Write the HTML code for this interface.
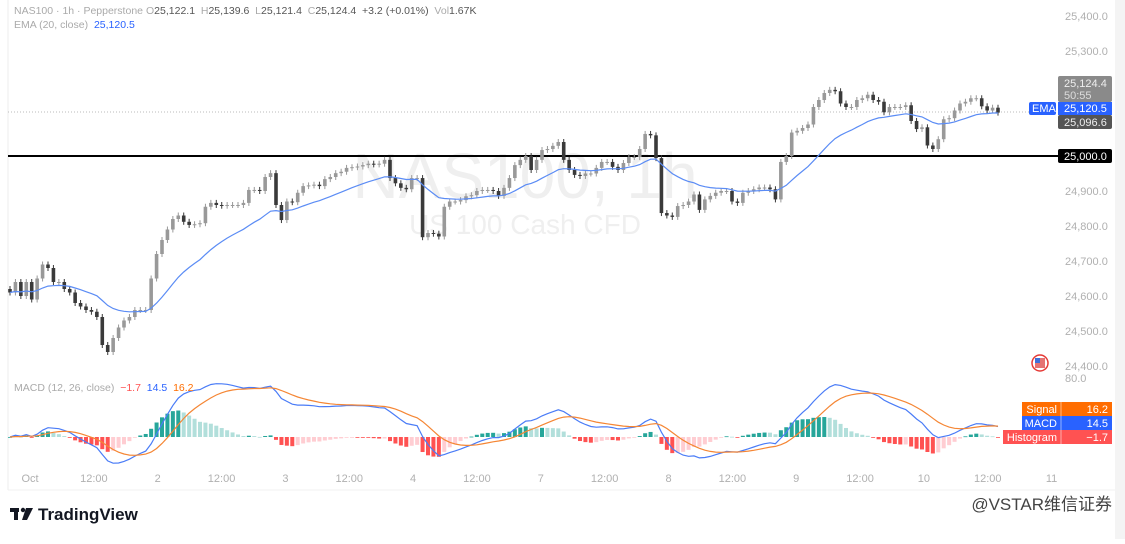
<!DOCTYPE html>
<html><head><meta charset="utf-8"><style>
html,body{margin:0;padding:0;background:#fff;}
body{width:1125px;height:539px;overflow:hidden;font-family:"Liberation Sans","Noto Sans CJK SC",sans-serif;}
svg text{font-family:"Liberation Sans","Noto Sans CJK SC",sans-serif;white-space:pre;}
</style></head><body>
<svg id="chart" width="1125" height="539" viewBox="0 0 1125 539" xmlns="http://www.w3.org/2000/svg">
<rect x="0" y="0" width="1125" height="539" fill="#fff"/>
<rect x="1115" y="0" width="10" height="539" fill="#f4f4f4"/>
<line x1="8" y1="0" x2="8" y2="490" stroke="#eeeeee"/>
<line x1="8" y1="490" x2="1115" y2="490" stroke="#f0f0f0"/>
<g>
<text x="525" y="198" font-size="64" fill="#efefef" text-anchor="middle">NAS100, 1h</text>
<text x="525" y="234" font-size="28" fill="#efefef" text-anchor="middle">US 100 Cash CFD</text>
</g>
<g id="yaxis"></g>
<line x1="8" y1="112" x2="1058" y2="112" stroke="#bbb" stroke-dasharray="1,2"/>
<line x1="8" y1="156" x2="1058" y2="156" stroke="#000" stroke-width="2"/>
<g id="candles"></g>
<path id="ema" fill="none" stroke="#5b8cf5" stroke-width="1.2"/>
<g id="hist"></g>
<path id="macdLine" fill="none" stroke="#4a7cf7" stroke-width="1.2"/>
<path id="sigLine" fill="none" stroke="#f58634" stroke-width="1.2"/>
<g id="xaxis"></g>
<g font-size="10.5">
<text x="14" y="14" fill="#aaa">NAS100 · 1h · Pepperstone</text>
<text x="146" y="14" fill="#aaa">O<tspan fill="#555">25,122.1</tspan>  H<tspan fill="#555">25,139.6</tspan>  L<tspan fill="#555">25,121.4</tspan>  C<tspan fill="#555">25,124.4</tspan>  <tspan fill="#555">+3.2 (+0.01%)</tspan>  Vol<tspan fill="#555">1.67K</tspan></text>
<text x="14" y="28" fill="#aaa">EMA (20, close)  <tspan fill="#2962ff">25,120.5</tspan></text>
<text x="14" y="391" fill="#aaa">MACD (12, 26, close)  <tspan fill="#ff5252">−1.7</tspan>  <tspan fill="#2962ff">14.5</tspan>  <tspan fill="#ff6d00">16.2</tspan></text>
</g>
<g font-size="11">
<rect x="1058" y="76" width="54" height="26" fill="#8a8a8a" rx="2"/>
<text x="1064" y="87" fill="#eee">25,124.4</text>
<text x="1064" y="99" fill="#ddd">50:55</text>
<rect x="1029" y="102" width="27" height="13" fill="#2962ff" rx="2"/>
<text x="1032" y="112" fill="#fff">EMA</text>
<rect x="1058" y="102" width="54" height="13" fill="#2962ff"/>
<text x="1064" y="112" fill="#fff">25,120.5</text>
<rect x="1058" y="115" width="54" height="14" fill="#555" rx="2"/>
<text x="1064" y="126" fill="#eee">25,096.6</text>
<rect x="1058" y="149" width="54" height="14" fill="#000" rx="2"/>
<text x="1064" y="160" fill="#fff">25,000.0</text>
<rect x="1022" y="402" width="90" height="14" fill="#ff6d00"/>
<text x="1057" y="413" fill="#fff" text-anchor="end">Signal</text><text x="1108" y="413" fill="#fff" text-anchor="end">16.2</text>
<rect x="1022" y="416" width="90" height="14" fill="#2962ff"/>
<text x="1057" y="427" fill="#fff" text-anchor="end">MACD</text><text x="1108" y="427" fill="#fff" text-anchor="end">14.5</text>
<rect x="1003" y="430" width="109" height="14" fill="#ff5252"/>
<text x="1057" y="441" fill="#fff" text-anchor="end">Histogram</text><text x="1108" y="441" fill="#fff" text-anchor="end">−1.7</text>
<line x1="1061" y1="402" x2="1061" y2="444" stroke="#fff" stroke-opacity="0.5"/>
</g>
<g>
<circle cx="1040" cy="363" r="8" fill="#fff" stroke="#e53935" stroke-width="1.5"/>
<rect x="1035" y="358" width="10" height="10" fill="#e57373"/>
<rect x="1035" y="358" width="5" height="5" fill="#3f6fd8"/>
</g>
<g>
<rect x="10" y="508" width="9" height="4" fill="#131722"/><rect x="14" y="508" width="4" height="12" fill="#131722"/>
<circle cx="23" cy="510" r="2.2" fill="#131722"/><path d="M26 508 L33 508 L27 520 L22 520 Z" fill="#131722"/>
<text x="38" y="520" font-size="17" font-weight="bold" fill="#131722">TradingView</text>
</g>
<text x="1112" y="510" font-size="17" fill="#444" text-anchor="end">@VSTAR维信证券</text>
</svg>
<script>
const closes = [24610,24640,24600,24640,24590,24650,24690,24680,24640,24640,24620,24610,24580,24570,24560,24555,24540,24460,24440,24480,24510,24530,24540,24560,24560,24560,24650,24720,24760,24790,24820,24830,24812,24803,24805,24808,24855,24866,24860,24858,24860,24860,24860,24866,24903,24903,24900,24940,24951,24860,24817,24870,24868,24895,24914,24916,24918,24914,24934,24940,24951,24955,24966,24968,24970,24974,24978,24976,24978,24989,24937,24922,24909,24905,24937,24937,24768,24780,24778,24770,24855,24870,24870,24874,24885,24888,24900,24903,24903,24900,24886,24909,24937,24974,24989,25000,24960,24989,25017,25020,25029,25040,24989,
24960,24946,24943,24950,24950,24966,24983,24983,24969,24960,24980,24997,24997,25020,25063,25059,24994,24837,24830,24826,24857,24860,24870,24890,24846,24876,24886,24895,24900,24900,24870,24866,24895,24900,24905,24910,24910,24905,24876,24983,25000,25067,25072,25080,25090,25140,25160,25180,25189,25185,25150,25140,25140,25160,25165,25175,25160,25155,25125,25140,25140,25140,25145,25100,25077,25082,25030,25020,25048,25105,25108,25130,25150,25155,25165,25165,25142,25130,25138,25124];
const priceTicks = [25400,25300,25200,25100,25000,24900,24800,24700,24600,24500,24400];
const tickHours = [0,12,24,36,48,60,72,84,96,108,120,132,144,156,168,180,192];
const tickLabels = ["Oct","12:00","2","12:00","3","12:00","4","12:00","7","12:00","8","12:00","9","12:00","10","12:00","11"];
const NS="http://www.w3.org/2000/svg";
function el(t,a,p){const e=document.createElementNS(NS,t);for(const k in a)e.setAttribute(k,a[k]);p.appendChild(e);return e;}
const yP = p => 156 - (p-25000)*0.35;
const n = closes.length;
const xC = i => 10 + i*(988/(n-1));
const yM = v => 437 - v*0.74;
const xT = h => 30 + h*(127.7/24);
const ya=document.getElementById('yaxis');
priceTicks.forEach(p=>{const t=el('text',{x:1065,y:yP(p)+4,'font-size':11,fill:'#b0b0b0'},ya);t.textContent=p.toLocaleString('en-US',{minimumFractionDigits:1});

});
{const t=el('text',{x:1065,y:382,'font-size':11,fill:'#b0b0b0'},ya);t.textContent='80.0';

}
const xa=document.getElementById('xaxis');
tickHours.forEach((h,i)=>{const t=el('text',{x:xT(h),y:482,'font-size':11,fill:'#b0b0b0','text-anchor':'middle'},xa);t.textContent=tickLabels[i];

});
const cg=document.getElementById('candles');
for(let i=0;i<n;i++){
 const o=i?closes[i-1]:closes[0]+10, c=closes[i];
 const bull=c>=o, col=bull?'#999999':'#3a3a3a';
 const x=xC(i), top=yP(Math.max(o,c)), bot=yP(Math.min(o,c));
 const w=el('line',{x1:x,x2:x,y1:top-3,y2:bot+3,stroke:col,'stroke-width':1},cg);
 
 
 const r=el('rect',{x:x-1.8,y:top,width:3.6,height:Math.max(1,bot-top),fill:col},cg);
 
 
}
function ema(arr,len){const k=2/(len+1);const out=[];let v=arr[0];arr.forEach((a,i)=>{v=i?a*k+v*(1-k):a;out.push(v);});return out;}
const e20=ema(closes,20);
document.getElementById('ema').setAttribute('d',e20.map((v,i)=>(i?'L':'M')+xC(i).toFixed(1)+' '+yP(v).toFixed(1)).join(' '));
const e12=ema(closes,12), e26=ema(closes,26);
const macd=e12.map((v,i)=>v-e26[i]);
const sig=ema(macd,9);
const hg=document.getElementById('hist');
let prev=0;
macd.forEach((m,i)=>{const h=m-sig[i];
 let col = h>=0 ? (h>=prev?'#26a69a':'#b2dfdb') : (h<=prev?'#ff5252':'#ffcdd2');
 const y0=yM(0), y1=yM(h);
 const r=el('rect',{x:xC(i)-2,y:Math.min(y0,y1),width:4,height:Math.max(0.8,Math.abs(y1-y0)),fill:col},hg);
 
 
 prev=h;});
document.getElementById('macdLine').setAttribute('d',macd.map((v,i)=>(i?'L':'M')+xC(i).toFixed(1)+' '+yM(v).toFixed(1)).join(' '));
document.getElementById('sigLine').setAttribute('d',sig.map((v,i)=>(i?'L':'M')+xC(i).toFixed(1)+' '+yM(v).toFixed(1)).join(' '));
</script>
</body></html>
